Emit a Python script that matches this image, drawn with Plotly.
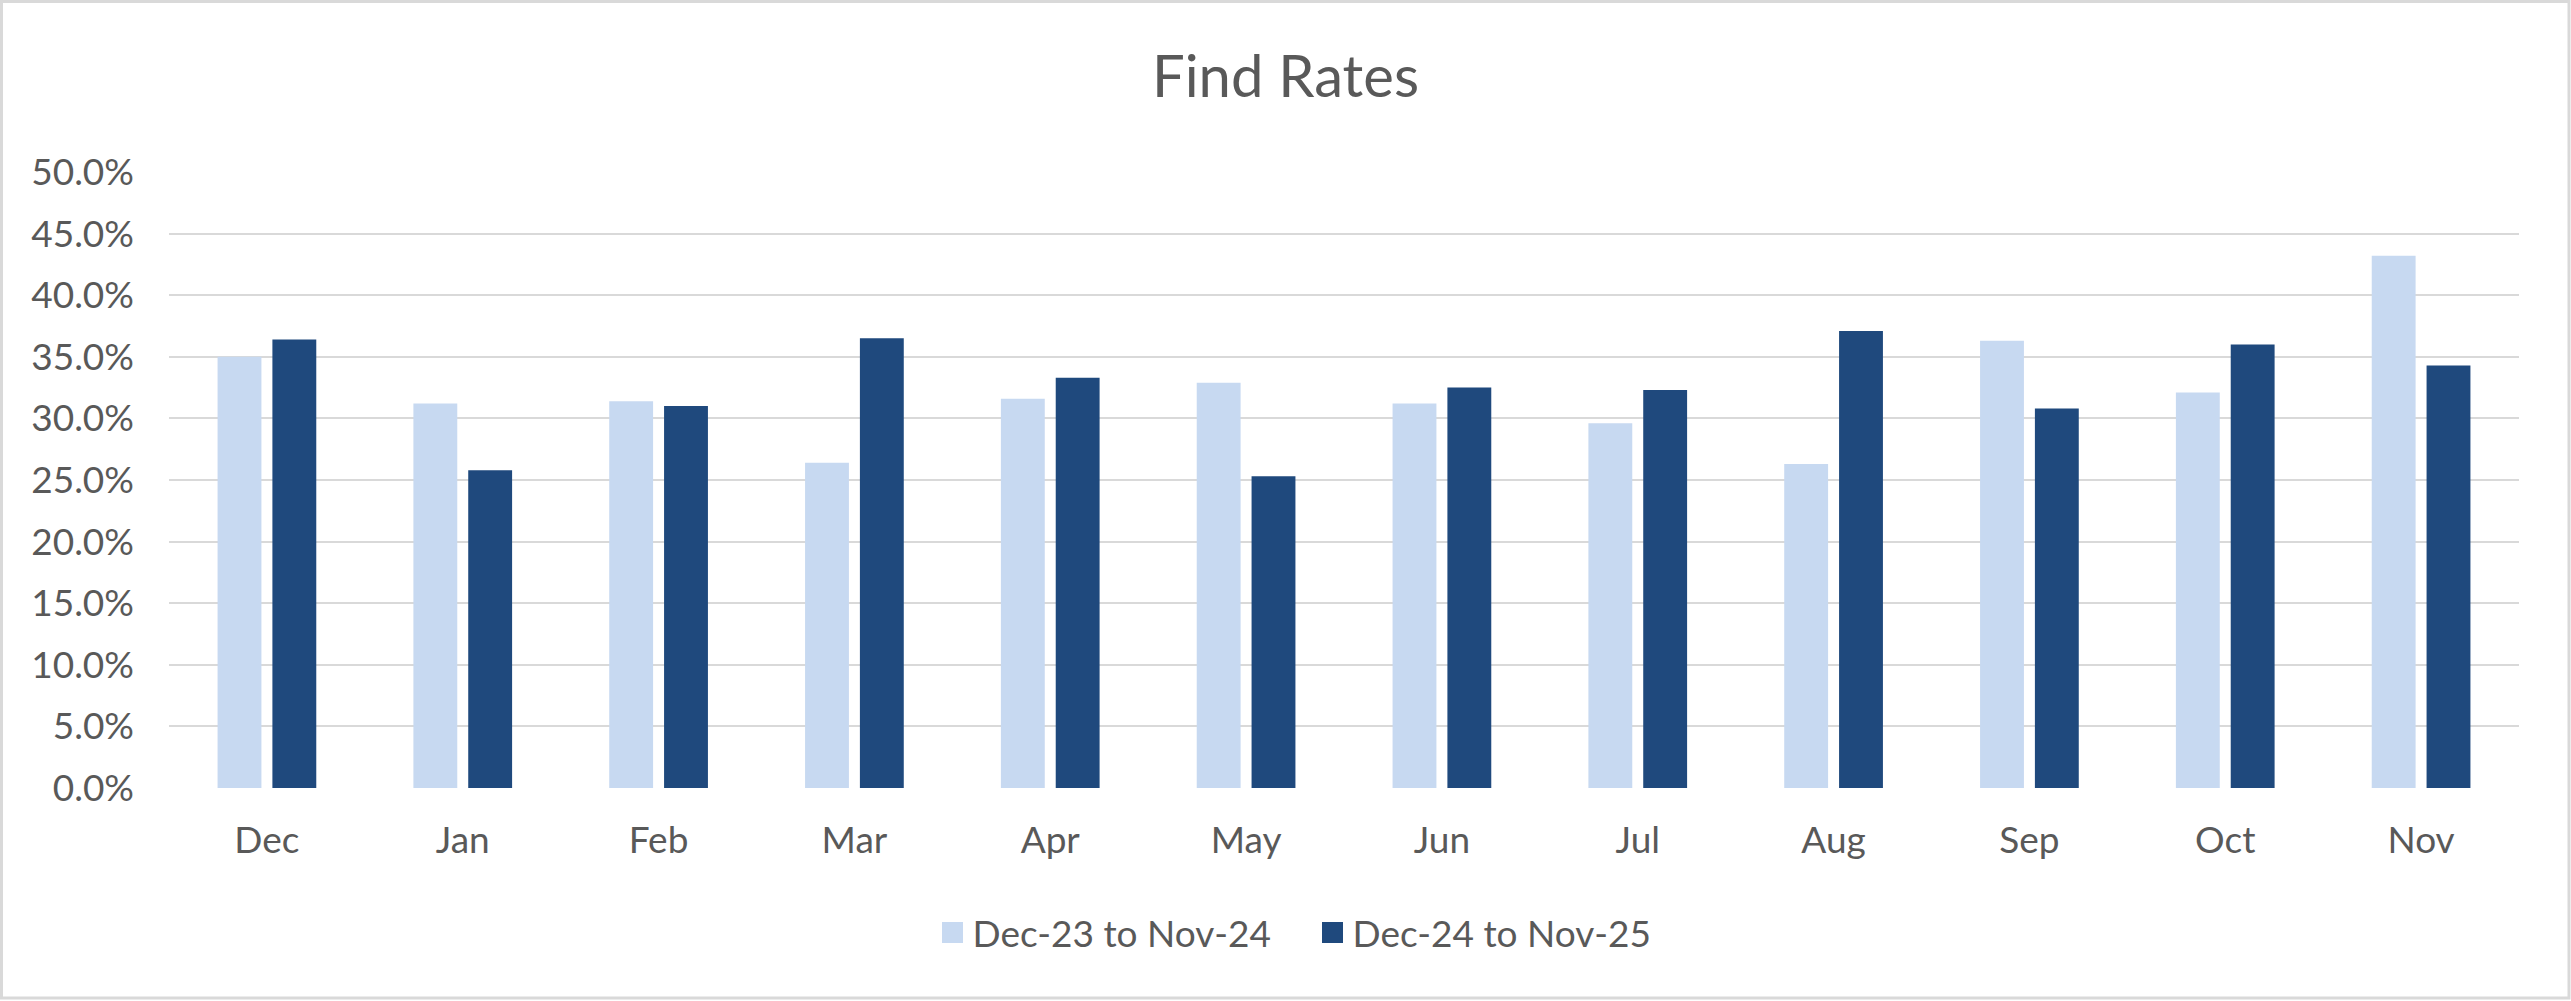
import plotly.graph_objects as go

months = ["Dec", "Jan", "Feb", "Mar", "Apr", "May", "Jun", "Jul", "Aug", "Sep", "Oct", "Nov"]
series_prev_name = "Dec-23 to Nov-24"
series_curr_name = "Dec-24 to Nov-25"
series_prev = [0.350, 0.312, 0.314, 0.264, 0.316, 0.329, 0.312, 0.296, 0.263, 0.363, 0.321, 0.432]
series_curr = [0.364, 0.258, 0.310, 0.365, 0.333, 0.253, 0.325, 0.323, 0.371, 0.308, 0.360, 0.343]
y_ticks = [0.0, 0.05, 0.10, 0.15, 0.20, 0.25, 0.30, 0.35, 0.40, 0.45, 0.50]

LIGHT = "#C7D9F1"
DARK = "#1F497D"
TEXT = "#595959"
GRID = "#D9D9D9"
FONT = "Lato"

W, H = 2571, 1001
ml, mr, mt, mb = 169, 52, 172, 213

fig = go.Figure()
for name, vals, col, grp in [(series_prev_name, series_prev, LIGHT, "a"),
                             (series_curr_name, series_curr, DARK, "b")]:
    fig.add_trace(go.Bar(x=months, y=vals, name=name, legendgroup=grp, showlegend=False,
                         marker=dict(color=col, line=dict(width=0))))
    # legend entry with a larger square swatch
    fig.add_trace(go.Scatter(x=[None], y=[None], mode="markers", name=name, legendgroup=grp,
                             showlegend=True, hoverinfo="skip",
                             marker=dict(symbol="square", size=16, color=col,
                                         line=dict(color=col, width=5))))

pw = W - ml - mr
ph = H - mt - mb

def px_x(p):
    return (p - ml) / pw

def px_y(p):
    return (H - mb - p) / ph

fig.update_layout(
    width=W, height=H,
    margin=dict(l=ml, r=mr, t=mt, b=mb, pad=0),
    paper_bgcolor="white", plot_bgcolor="white",
    barmode="group", bargap=0.44, bargroupgap=0.2,
    font=dict(family=FONT, color=TEXT, size=37),
    title=dict(text="Find Rates", x=0.5, xanchor="center", xref="container",
               y=1 - 77 / H, yanchor="middle", yref="container",
               font=dict(family=FONT, size=58, color=TEXT)),
    showlegend=True,
    legend=dict(orientation="h", x=0.5105, xanchor="center", xref="container",
                y=1 - 933 / H, yanchor="middle", yref="container",
                font=dict(family=FONT, size=37, color=TEXT),
                itemwidth=30, itemsizing="trace", tracegroupgap=0,
                entrywidth=335, entrywidthmode="pixels",
                bgcolor="rgba(0,0,0,0)"),
    xaxis=dict(showgrid=False, showline=False, zeroline=False, ticks="",
               tickfont=dict(family=FONT, size=37, color=TEXT),
               ticklabelstandoff=27),
    yaxis=dict(range=[0, 0.5], tickvals=y_ticks, tickformat=".1%",
               showgrid=True, gridcolor=GRID, gridwidth=2,
               zeroline=False, showline=False, ticks="",
               tickfont=dict(family=FONT, size=37, color=TEXT),
               ticklabelstandoff=34),
    shapes=[dict(type="rect", xref="paper", yref="paper",
                 x0=px_x(1.5), x1=px_x(2569), y0=px_y(998), y1=px_y(1.5),
                 line=dict(color=GRID, width=3), fillcolor="rgba(0,0,0,0)", layer="below")],
)

fig.write_html("out.html")
